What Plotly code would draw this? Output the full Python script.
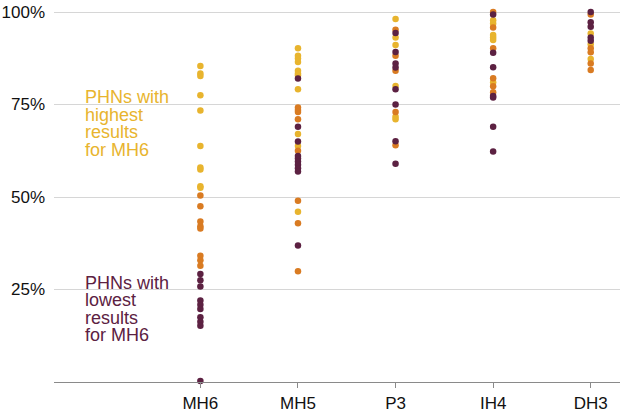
import plotly.graph_objects as go

categories = ["MH6", "MH5", "P3", "IH4", "DH3"]

# Values (%) per indicator, grouped by the PHN's MH6 result group
high_vals = {
    "MH6": [85.4, 83.4, 82.7, 77.5, 73.4, 63.8, 58.0, 57.4, 52.9, 52.5],
    "MH5": [90.2, 88.2, 87.4, 86.5, 84.1, 83.4, 82.9, 79.1, 67.0, 63.8, 46.0],
    "P3": [98.1, 93.1, 91.1, 80.0, 71.7, 71.0],
    "IH4": [97.8, 96.9, 93.8, 93.1, 92.4, 81.0],
    "DH3": [94.2, 91.3, 87.3],
}
mid_vals = {
    "MH6": [50.4, 47.5, 43.4, 42.1, 41.5, 34.1, 32.9, 31.4],
    "MH5": [74.2, 73.5, 73.0, 71.0, 62.5, 49.0, 42.9, 29.9],
    "P3": [95.2, 88.2, 84.1, 73.0, 64.0],
    "IH4": [100.0, 95.8, 90.2, 82.1, 79.9, 78.3],
    "DH3": [99.3, 90.2, 89.1, 86.1, 84.3],
}
low_vals = {
    "MH6": [29.2, 27.5, 25.8, 22.0, 20.9, 19.7, 17.5, 16.3, 15.2, 0.3],
    "MH5": [82.0, 69.0, 65.0, 61.1, 60.4, 59.6, 58.7, 57.8, 56.9, 36.9],
    "P3": [94.3, 89.2, 86.1, 85.0, 79.1, 75.0, 65.1, 59.0],
    "IH4": [99.3, 89.0, 85.1, 77.3, 76.9, 69.0, 62.3],
    "DH3": [100.0, 97.2, 96.0, 93.1, 92.2],
}
y_ticks = [25, 50, 75, 100]
y_tick_labels = ["25%", "50%", "75%", "100%"]

high_label_lines = ["PHNs with", "highest", "results", "for MH6"]
low_label_lines = ["PHNs with", "lowest", "results", "for MH6"]

colors = {"high": "#E8B42E", "mid": "#D97B22", "low": "#5C2142"}

fig = go.Figure()


def add_group(vals, color):
    xs, ys = [], []
    for c in categories:
        for v in vals[c]:
            xs.append(c)
            ys.append(v)
    fig.add_trace(go.Scatter(
        x=xs, y=ys, mode="markers",
        marker=dict(color=color, size=6.5, line=dict(width=0)),
        cliponaxis=False, showlegend=False, hoverinfo="x+y",
    ))


add_group(high_vals, colors["high"])
add_group(mid_vals, colors["mid"])
add_group(low_vals, colors["low"])

font_family = "Liberation Sans, Arial, Helvetica, sans-serif"


def add_label(lines, top_value, color):
    for i, line in enumerate(lines):
        fig.add_annotation(
            x=0.0512, xref="paper", y=top_value - i * 4.7, yref="y",
            text=line, showarrow=False, xanchor="left", yanchor="middle",
            align="left",
            font=dict(family=font_family, size=18, color=color),
        )


add_label(high_label_lines, 76.9, colors["high"])
add_label(low_label_lines, 26.8, colors["low"])

fig.update_layout(
    width=628, height=411,
    margin=dict(l=54, r=8, t=10, b=29, autoexpand=False),
    paper_bgcolor="white", plot_bgcolor="white",
    font=dict(family=font_family, size=17, color="#111"),
    xaxis=dict(
        type="category", categoryorder="array", categoryarray=categories,
        range=[-1.5, 4.3], showgrid=False, showline=True, linecolor="#8a8a8a",
        linewidth=1.2, ticks="outside", ticklen=5, tickcolor="#8a8a8a",
        tickfont=dict(size=17, color="#111"), zeroline=False,
        automargin=False,
    ),
    yaxis=dict(
        range=[0, 100.54], tickvals=y_ticks, ticktext=y_tick_labels,
        showgrid=True, gridcolor="#d6d6d6", gridwidth=1, zeroline=False,
        showline=False, ticks="", tickfont=dict(size=17, color="#111"),
        ticklabelstandoff=8, automargin=False, ticklabeloverflow="allow",
    ),
)

fig.write_html(
    "out.html",
    config={"displayModeBar": False},
    post_script="document.body.style.margin='0';document.body.style.overflow='hidden';",
)
